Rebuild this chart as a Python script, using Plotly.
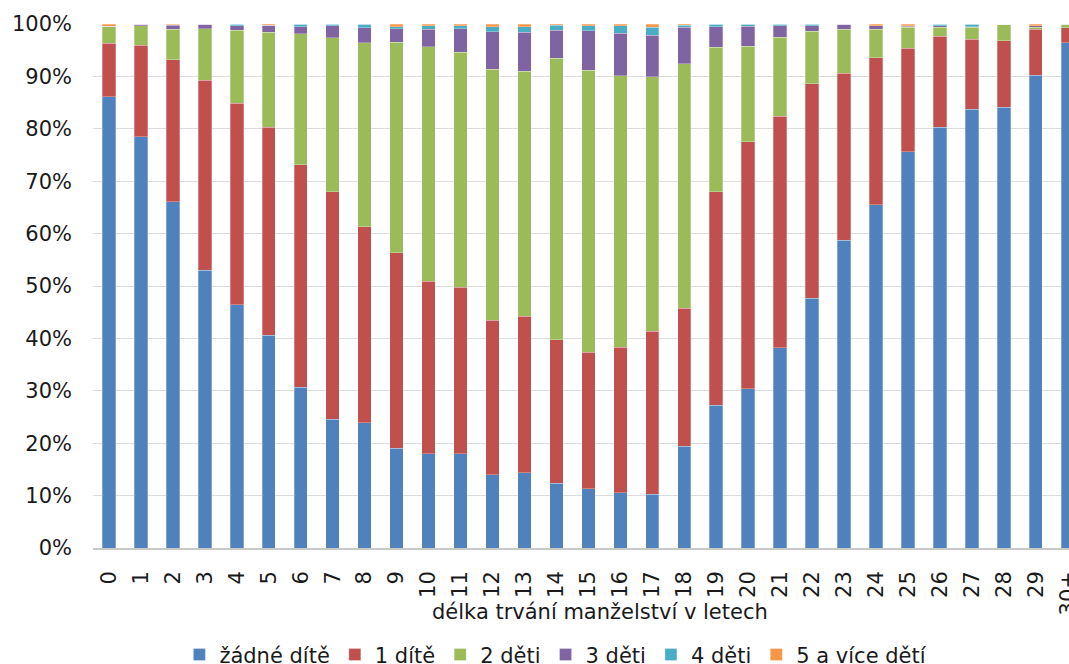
import plotly.graph_objects as go

categories = [str(i) for i in range(30)] + ["30+"]

zadne = [86.2, 78.5, 66.1, 53.0, 46.4, 40.6, 30.7, 24.6, 23.9, 19.0, 18.0, 18.0, 14.0, 14.4, 12.4,
         11.3, 10.5, 10.3, 19.4, 27.2, 30.4, 38.2, 47.7, 58.7, 65.5, 75.6, 80.3, 83.7, 84.1, 90.2, 96.4]
jedno = [10.2, 17.4, 27.1, 36.3, 38.5, 39.7, 42.4, 43.4, 37.4, 37.3, 32.9, 31.7, 29.4, 29.8, 27.4,
         26.1, 27.8, 31.1, 26.3, 40.8, 47.1, 44.2, 40.9, 31.9, 28.1, 19.7, 17.3, 13.3, 12.7, 8.8, 2.9]
dve = [3.1, 3.8, 5.8, 9.8, 13.9, 18.2, 25.0, 29.3, 35.1, 40.2, 44.8, 44.9, 47.9, 46.7, 53.7,
       53.8, 51.8, 48.6, 46.7, 27.6, 18.3, 15.1, 10.0, 8.4, 5.4, 4.0, 1.75, 2.35, 3.2, 0.35, 0.6]
tri = [0.1, 0.3, 0.8, 0.85, 0.85, 1.3, 1.35, 2.3, 2.85, 2.5, 3.3, 4.45, 7.1, 7.45, 5.35,
       7.5, 8.1, 7.9, 6.9, 3.9, 3.8, 2.2, 1.1, 1.0, 0.65, 0.25, 0.3, 0.1, 0.0, 0.3, 0.1]
ctyri = [0.05, 0.0, 0.05, 0.03, 0.3, 0.05, 0.45, 0.3, 0.7, 0.45, 0.7, 0.6, 1.0, 1.1, 1.0,
         1.0, 1.5, 1.5, 0.45, 0.5, 0.4, 0.3, 0.3, 0.0, 0.05, 0.1, 0.3, 0.5, 0.0, 0.05, 0.0]
pet = [0.4, 0.0, 0.15, 0.05, 0.05, 0.2, 0.05, 0.05, 0.05, 0.5, 0.3, 0.3, 0.5, 0.5, 0.2,
       0.3, 0.3, 0.65, 0.2, 0.0, 0.0, 0.0, 0.0, 0.0, 0.3, 0.3, 0.0, 0.0, 0.0, 0.3, 0.0]

series_names = ["žádné dítě", "1 dítě", "2 děti", "3 děti", "4 děti", "5 a více dětí"]
series_values = [zadne, jedno, dve, tri, ctyri, pet]
colors = ["#4F81BD", "#C0504D", "#9BBB59", "#8064A2", "#4BACC6", "#F79646"]

y_ticks = list(range(0, 101, 10))
y_ticklabels = [f"{v}%" for v in y_ticks]

FONT = "DejaVu Sans"
FS = 21

fig = go.Figure()
for name, vals, col in zip(series_names, series_values, colors):
    fig.add_trace(go.Bar(
        x=categories, y=vals, name=name,
        marker=dict(color=col, line=dict(color="rgba(255,255,255,0.35)", width=0.8)),
        width=0.42,
    ))

fig.update_layout(
    width=1069, height=664,
    barmode="stack", barnorm="percent",
    paper_bgcolor="white", plot_bgcolor="white",
    margin=dict(l=93, r=0, t=24, b=116, autoexpand=False),
    font=dict(family=FONT, size=FS, color="#1a1a1a"),
    showlegend=True,
    legend=dict(
        orientation="h", xref="container", yref="container",
        x=0.520, xanchor="center", y=0.0136, yanchor="middle",
        font=dict(size=FS, family=FONT), itemwidth=30, traceorder="normal",
        bgcolor="rgba(0,0,0,0)",
    ),
    xaxis=dict(
        type="category", range=[-0.5, 30.04],
        tickangle=-90, showgrid=False, showline=True, linecolor="#C8C8C8", linewidth=1.5,
        ticks="", ticklabelstandoff=13, automargin=False,
        tickfont=dict(size=FS, family=FONT),
    ),
    yaxis=dict(
        range=[0, 100], tickvals=y_ticks, ticktext=y_ticklabels,
        showgrid=True, gridcolor="#DCDCDC", gridwidth=1, zeroline=False,
        showline=False, ticks="", ticklabelstandoff=20, automargin=False,
        tickfont=dict(size=FS, family=FONT),
    ),
    annotations=[dict(
        text="délka trvání manželství v letech", xref="paper", yref="paper",
        x=0.5195, y=-0.122, xanchor="center", yanchor="middle", showarrow=False,
        font=dict(size=FS, family=FONT, color="#1a1a1a"),
    )],
)

fig.write_html(
    "out.html",
    config={"displayModeBar": False},
    post_script=(
        "document.body.style.margin='0';"
        "document.body.style.overflow='hidden';"
        "document.documentElement.style.overflow='hidden';"
    ),
)
